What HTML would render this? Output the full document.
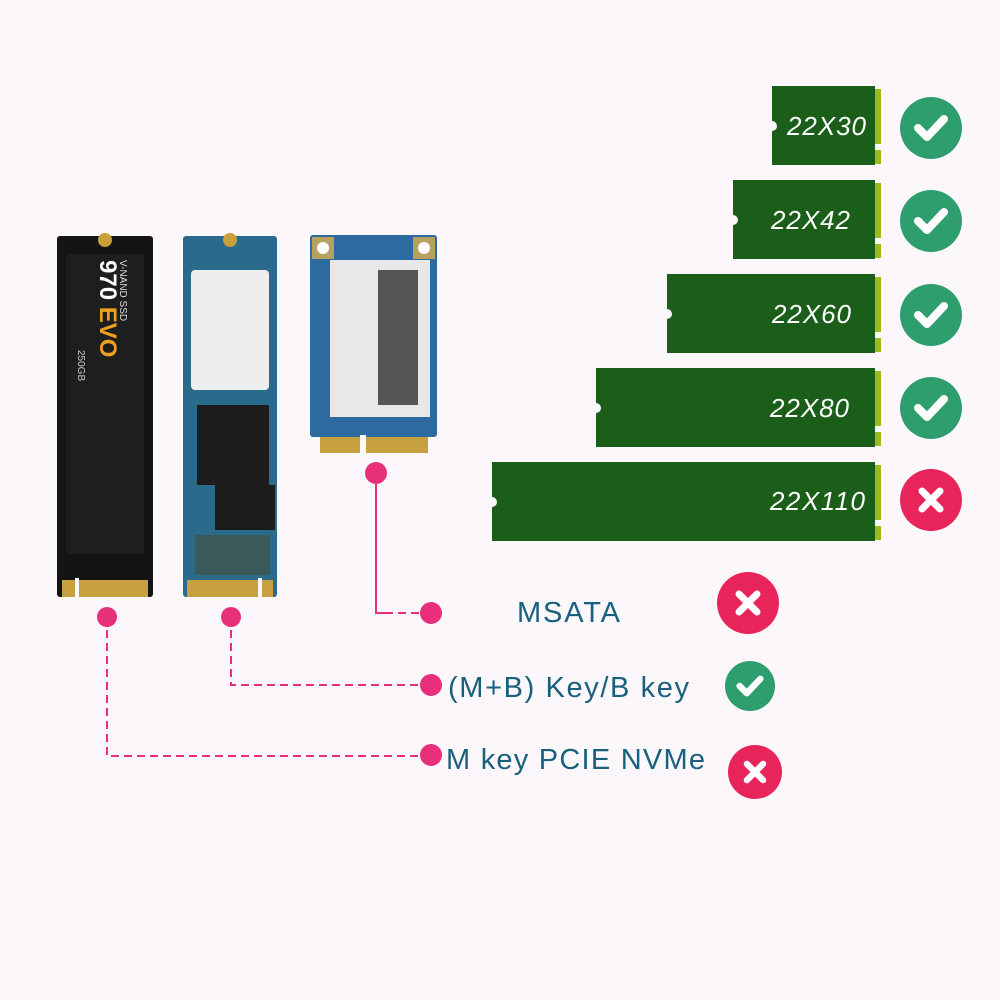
<!DOCTYPE html>
<html><head><meta charset="utf-8"><style>
html,body{margin:0;padding:0;background:#fcf7fb;}
svg{display:block}
</style></head><body>
<svg width="1000" height="1000" viewBox="0 0 1000 1000" xmlns="http://www.w3.org/2000/svg">
<rect width="1000" height="1000" fill="#fcf7fb"/>
<defs>
<g id="chk"><path d="M-13,0 L-4,9 L13,-9" fill="none" stroke="#fff" stroke-width="8" stroke-linecap="round" stroke-linejoin="round"/></g>
<g id="xx"><path d="M-9,-9 L9,9 M9,-9 L-9,9" fill="none" stroke="#fff" stroke-width="7" stroke-linecap="round"/></g>
</defs>
<g font-family="Liberation Sans, sans-serif" font-style="italic" font-size="26" fill="#fff">
<g fill="#1a5e1a">
<rect x="772" y="86" width="103" height="79"/>
<rect x="733" y="180" width="142" height="79"/>
<rect x="667" y="274" width="208" height="79"/>
<rect x="596" y="368" width="279" height="79"/>
<rect x="492" y="462" width="383" height="79"/>
</g>
<g fill="#9fb81a">
<rect x="875" y="89" width="6" height="55"/><rect x="875" y="150" width="6" height="14"/>
<rect x="875" y="183" width="6" height="55"/><rect x="875" y="244" width="6" height="14"/>
<rect x="875" y="277" width="6" height="55"/><rect x="875" y="338" width="6" height="14"/>
<rect x="875" y="371" width="6" height="55"/><rect x="875" y="432" width="6" height="14"/>
<rect x="875" y="465" width="6" height="55"/><rect x="875" y="526" width="6" height="14"/>
</g>
<g fill="#fcf7fb">
<circle cx="772" cy="126" r="5"/><circle cx="733" cy="220" r="5"/><circle cx="667" cy="314" r="5"/><circle cx="596" cy="408" r="5"/><circle cx="492" cy="502" r="5"/>
</g>
<text x="787" y="135" textLength="79">22X30</text>
<text x="771" y="229" textLength="79">22X42</text>
<text x="772" y="323" textLength="79">22X60</text>
<text x="770" y="417" textLength="79">22X80</text>
<text x="770" y="510" textLength="95">22X110</text>
</g>
<g fill="#2e9e6e">
<circle cx="931" cy="128" r="31"/><circle cx="931" cy="221" r="31"/><circle cx="931" cy="315" r="31"/><circle cx="931" cy="408" r="31"/>
<circle cx="750" cy="686" r="25"/>
</g>
<g fill="#e8255a"><circle cx="931" cy="500" r="31"/><circle cx="748" cy="603" r="31"/><circle cx="755" cy="772" r="27"/></g>
<use href="#chk" x="931" y="128"/><use href="#chk" x="931" y="221"/><use href="#chk" x="931" y="315"/><use href="#chk" x="931" y="408"/>
<g transform="translate(750,686) scale(0.8)"><use href="#chk"/></g>
<use href="#xx" x="931" y="500"/><use href="#xx" x="748" y="603"/><g transform="translate(755,772) scale(0.9)"><use href="#xx"/></g>
<rect x="57" y="236" width="96" height="361" rx="3" fill="#141414"/>
<rect x="66" y="254" width="78" height="300" fill="#1e1e1e"/>
<circle cx="105" cy="240" r="7" fill="#c8a03a"/>
<rect x="62" y="580" width="86" height="17" fill="#c9a040"/>
<rect x="75" y="578" width="4" height="19" fill="#fcf7fb"/>
<g transform="translate(100,300) rotate(90)" font-family="Liberation Sans, sans-serif">
<text x="-40" y="0" font-size="24" font-weight="bold" fill="#fff">970 <tspan fill="#f0a020">EVO</tspan></text>
<text x="-40" y="-20" font-size="10" fill="#ddd">V-NAND SSD</text>
<text x="50" y="22" font-size="10" fill="#ccc">250GB</text>
</g>
<rect x="183" y="236" width="94" height="361" rx="3" fill="#2a6a8a"/>
<rect x="191" y="270" width="78" height="120" rx="4" fill="#eeeeee"/>
<rect x="197" y="405" width="72" height="80" fill="#1c1c1c"/>
<rect x="215" y="485" width="60" height="45" fill="#1c1c1c"/>
<rect x="195" y="535" width="75" height="40" fill="#3a5a5a"/>
<circle cx="230" cy="240" r="7" fill="#c8a03a"/>
<rect x="187" y="580" width="86" height="17" fill="#c9a040"/>
<rect x="258" y="578" width="4" height="19" fill="#fcf7fb"/>
<rect x="310" y="235" width="127" height="202" rx="3" fill="#2d6aa0"/>
<rect x="312" y="237" width="22" height="22" fill="#b8a060"/><rect x="413" y="237" width="22" height="22" fill="#b8a060"/>
<circle cx="323" cy="248" r="6" fill="#fff"/><circle cx="424" cy="248" r="6" fill="#fff"/>
<rect x="330" y="260" width="100" height="157" fill="#e8e8e8"/>
<rect x="378" y="270" width="40" height="135" fill="#555"/>
<rect x="320" y="437" width="108" height="16" fill="#c9a040"/>
<rect x="360" y="435" width="6" height="18" fill="#fcf7fb"/>
<g stroke="#e8307a" stroke-width="2" fill="none">
<path d="M376,473 V613 H385"/>
<path d="M385,613 H431" stroke-dasharray="8,5"/>
<path d="M231,617 V685 H431" stroke-dasharray="8,5"/>
<path d="M107,617 V756 H431" stroke-dasharray="8,5"/>
</g>
<g fill="#e8307a">
<circle cx="107" cy="617" r="10"/><circle cx="231" cy="617" r="10"/><circle cx="376" cy="473" r="11"/>
<circle cx="431" cy="613" r="11"/><circle cx="431" cy="685" r="11"/><circle cx="431" cy="755" r="11"/>
</g>
<g font-family="Liberation Sans, sans-serif" font-size="29" fill="#17607e">
<text x="517" y="622" textLength="103">MSATA</text>
<text x="448" y="697" textLength="241">(M+B) Key/B key</text>
<text x="446" y="769" textLength="259">M key PCIE NVMe</text>
</g>
</svg>
</body></html>
